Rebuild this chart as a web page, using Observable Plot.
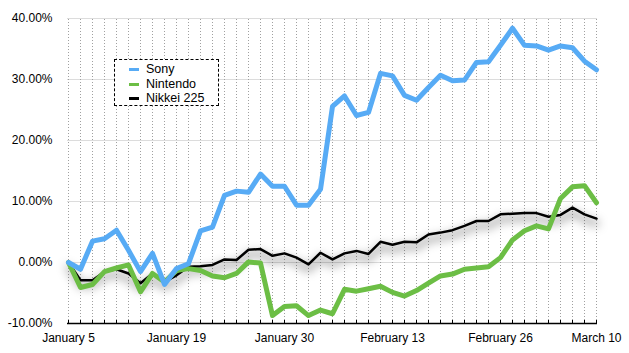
<!DOCTYPE html>
<html>
<head>
<meta charset="utf-8">
<script src="https://cdn.jsdelivr.net/npm/d3@7"></script>
<script src="https://cdn.jsdelivr.net/npm/@observablehq/plot@0.6"></script>
<style>
  html, body { margin: 0; padding: 0; background: #fff; }
  #wrap { position: relative; width: 629px; height: 353px; font-family: "Liberation Sans", Arial, Helvetica, sans-serif; }
  #legend { position: absolute; left: 114px; top: 59px; width: 103px; height: 45px; border: 1px dashed #000; background: #fff; }
  .row { position: absolute; left: 0; height: 15px; line-height: 15px; font-size: 12.5px; color: #000; white-space: nowrap; }
  .sw { position: absolute; left: 14px; top: 6px; width: 10px; height: 3px; }
  .lab { position: absolute; left: 31px; top: 0; }
</style>
</head>
<body>
<div id="wrap"><div id="legend"></div></div>
<script>
// ---- data ----
const dates = [
  "January 5","January 6","January 7","January 8","January 9",
  "January 13","January 14","January 15","January 16",
  "January 19","January 20","January 21","January 22","January 23",
  "January 26","January 27","January 28","January 29","January 30",
  "February 2","February 3","February 4","February 5","February 6",
  "February 9","February 10","February 12","February 13",
  "February 16","February 17","February 18","February 19","February 20",
  "February 23","February 24","February 25","February 26","February 27",
  "March 2","March 3","March 4","March 5","March 6",
  "March 9","March 10"
];
const tickLabels = ["January 5","January 19","January 30","February 13","February 26","March 10"];
const yTicks = [-10, 0, 10, 20, 30, 40];

const sony = [0,-1.1,3.5,3.9,5.3,2.0,-1.5,1.5,-3.6,-1.0,-0.2,5.2,5.8,11.0,11.7,11.5,14.5,12.5,12.5,9.4,9.4,12.0,25.6,27.3,24.1,24.6,31.0,30.6,27.4,26.6,28.7,30.7,29.8,29.9,32.8,32.9,35.6,38.4,35.6,35.5,34.8,35.5,35.2,33.0,31.6];
const nintendo = [0,-4.1,-3.6,-1.5,-0.9,-0.4,-4.8,-1.8,-3.2,-1.3,-1.0,-1.3,-2.2,-2.5,-1.8,0.1,-0.1,-8.7,-7.2,-7.1,-8.7,-7.8,-8.4,-4.4,-4.7,-4.3,-3.9,-4.9,-5.5,-4.6,-3.4,-2.2,-1.9,-1.1,-0.9,-0.7,0.8,3.7,5.2,6.0,5.5,10.5,12.4,12.6,9.8];
const nikkei = [0,-2.9,-2.9,-1.5,-1.1,-1.8,-3.4,-1.8,-3.2,-2.1,-0.7,-0.6,-0.4,0.5,0.4,2.1,2.2,1.1,1.5,0.8,-0.3,1.6,0.5,1.5,1.9,1.4,3.4,2.9,3.4,3.3,4.6,4.9,5.3,6.0,6.8,6.8,7.9,8.0,8.1,8.1,7.5,7.8,9.0,7.9,7.2];

const seriesNames = ["Sony", "Nintendo", "Nikkei 225"];

// ---- styles ----
const colors = { "Sony": "#57abf5", "Nintendo": "#6cbe45", "Nikkei 225": "#000000" };

const rows = (vals) => dates.map((d, i) => ({ date: d, value: vals[i] }));
const sonyRows = rows(sony), nintendoRows = rows(nintendo), nikkeiRows = rows(nikkei);

const chart = Plot.plot({
  width: 629,
  height: 353,
  marginLeft: 67,
  marginRight: 32,
  marginTop: 18,
  marginBottom: 30,
  style: { fontFamily: '"Liberation Sans", Arial, Helvetica, sans-serif', fontSize: "12px", color: "#000", background: "transparent", overflow: "visible" },
  x: { type: "point", domain: dates, padding: 0, label: null },
  y: { domain: [-10, 40], label: null },
  marks: [
    Plot.ruleY(yTicks.filter(d => d > -10), { stroke: "#dcdcdc", strokeWidth: 1 }),
    Plot.ruleX(dates, { y1: -10, y2: 40, stroke: "#a0a0a0", strokeWidth: 1, strokeDasharray: "1,2" }),
    Plot.axisY({ ticks: yTicks, tickSize: 0, tickPadding: 15, fontSize: 12, label: null, tickFormat: d => d.toFixed(2) + "%" }),
    // shadow under the Nikkei line
    Plot.lineY(nikkeiRows, { x: "date", y: "value", stroke: "#000", strokeOpacity: 0.32, strokeWidth: 6, dy: 5 }),
    Plot.lineY(nikkeiRows, { x: "date", y: "value", stroke: colors["Nikkei 225"], strokeWidth: 2.5, strokeLinejoin: "round" }),
    Plot.lineY(nintendoRows, { x: "date", y: "value", stroke: colors["Nintendo"], strokeWidth: 5, strokeLinejoin: "round" }),
    Plot.lineY(sonyRows, { x: "date", y: "value", stroke: colors["Sony"], strokeWidth: 5, strokeLinejoin: "round" }),
    Plot.ruleY([-10], { stroke: "#000", strokeWidth: 1.5 }),
    Plot.axisX({ ticks: dates, tickSize: 3, dy: -3, label: null, tickFormat: () => "", stroke: "#000" }),
    Plot.axisX({ ticks: tickLabels, tickSize: 0, tickPadding: 10, fontSize: 12, label: null, tickFormat: d => d })
  ]
});

// blur filter for the shadow
const ns = "http://www.w3.org/2000/svg";
const defs = document.createElementNS(ns, "defs");
defs.innerHTML = '<filter id="nkShadow" filterUnits="userSpaceOnUse" x="0" y="0" width="629" height="353"><feGaussianBlur stdDeviation="5"/></filter>';
chart.insertBefore(defs, chart.firstChild);
const lines = chart.querySelectorAll('g[aria-label="line"]');
if (lines.length) lines[0].setAttribute("filter", "url(#nkShadow)");

document.getElementById("wrap").insertBefore(chart, document.getElementById("legend"));

// legend
const legend = document.getElementById("legend");
const rowTops = [2, 17, 31];
seriesNames.forEach((name, i) => {
  const r = document.createElement("div");
  r.className = "row";
  r.style.top = rowTops[i] + "px";
  const sw = document.createElement("span");
  sw.className = "sw";
  sw.style.background = colors[name];
  const t = document.createElement("span");
  t.className = "lab";
  t.textContent = name;
  r.appendChild(sw); r.appendChild(t);
  legend.appendChild(r);
});
</script>
</body>
</html>
